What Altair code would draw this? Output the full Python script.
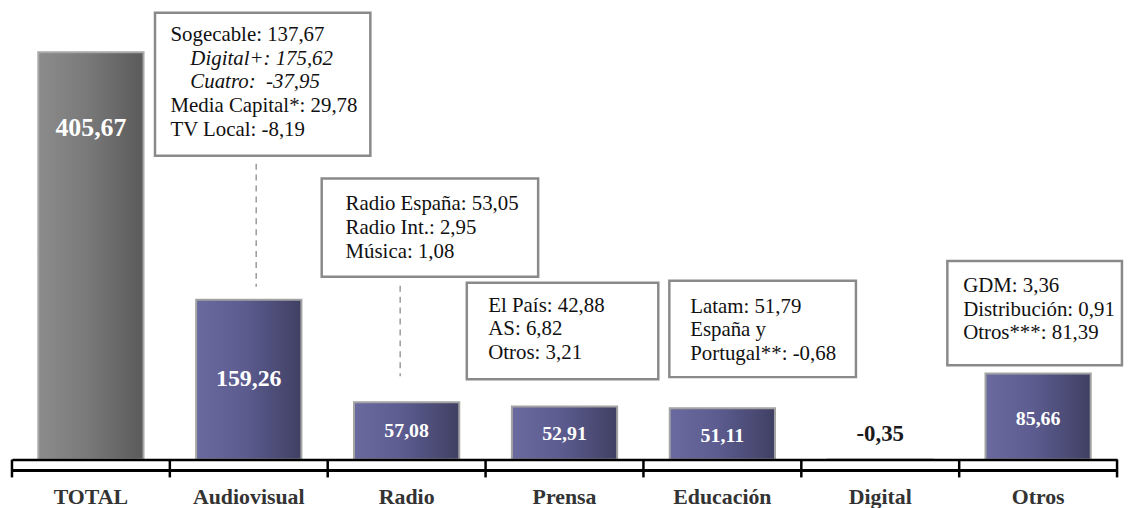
import altair as alt
import pandas as pd

# ---------------- data ----------------
categories = ["TOTAL", "Audiovisual", "Radio", "Prensa", "Educación", "Digital", "Otros"]
values = [405.67, 159.26, 57.08, 52.91, 51.11, -0.35, 85.66]
# height (in value units) at which each value label sits
label_at = [330.0, 80.1, 28.7, 25.2, 23.7, 25.7, 40.5]

note_audiovisual = ["Sogecable: 137,67", "Digital+: 175,62", "Cuatro:\u00a0\u00a0-37,95",
                    "Media Capital*: 29,78", "TV Local: -8,19"]
note_audiovisual_italic = [False, True, True, False, False]
note_radio = ["Radio España: 53,05", "Radio Int.: 2,95", "Música: 1,08"]
note_prensa = ["El País: 42,88", "AS: 6,82", "Otros: 3,21"]
note_educacion = ["Latam: 51,79", "España y", "\u00a0Portugal**: -0,68"]
note_otros = ["GDM: 3,36", "Distribución: 0,91", "Otros***: 81,39"]

# ---------------- layout / style ----------------
W, H = 1113, 453
YMAX = 448
FONT = "Liberation Serif"
label_size = [26, 24, 20, 20, 20, 23, 20]
label_color = ["white", "white", "white", "white", "white", "#1a1a1a", "white"]
LINE_STEP = 23.7  # value units between text lines

# box geometry: x in band units (0..7), y in value units
boxes = [
    dict(u0=0.906, u1=2.270, v0=445.0, v1=302.6, tu=1.004, tv=417.0, lines=note_audiovisual,
         italic=note_audiovisual_italic),
    dict(u0=1.962, u1=3.333, v0=279.9, v1=182.0, tu=2.113, tv=248.2, lines=note_radio,
         italic=[False] * 3),
    dict(u0=2.881, u1=4.094, v0=176.0, v1=80.1, tu=3.017, tv=147.4, lines=note_prensa,
         italic=[False] * 3),
    dict(u0=4.164, u1=5.346, v0=178.0, v1=82.1, tu=4.296, tv=146.4, lines=note_educacion,
         italic=[False] * 3),
    dict(u0=5.925, u1=7.031, v0=197.8, v1=94.0, tu=6.025, tv=167.1, lines=note_otros,
         italic=[False] * 3),
]
ITALIC_INDENT = 0.126
dashes = [dict(u=1.547, v0=294.7, v1=172.1), dict(u=2.459, v0=173.1, v1=83.1)]

# ---------------- tables ----------------
bars_df = pd.DataFrame({
    "cat": categories,
    "value": values,
    "label": [f"{v:.2f}".replace(".", ",") for v in values],
    "label_at": label_at,
    "fs": label_size,
    "lc": label_color,
})

box_df = pd.DataFrame([{k: b[k] for k in ("u0", "u1", "v0", "v1")} for b in boxes])
rows = []
for b in boxes:
    for i, (t, it) in enumerate(zip(b["lines"], b["italic"])):
        rows.append(dict(text=t, italic=it,
                         u=b["tu"] + (ITALIC_INDENT if it else 0.0),
                         v=b["tv"] - i * LINE_STEP))
text_df = pd.DataFrame(rows)
dash_df = pd.DataFrame(dashes)
tick_df = pd.DataFrame({"u": list(range(len(categories) + 1))})  # band boundaries

# ---------------- encodings ----------------
x_band = alt.X(
    "cat:N", sort=categories,
    scale=alt.Scale(domain=categories, paddingInner=1 / 3, paddingOuter=1 / 6),
    axis=alt.Axis(title=None, labelAngle=0, ticks=False, grid=False,
                  domainColor="black", domainWidth=2.5,
                  labelFont=FONT, labelFontSize=22, labelFontWeight="bold",
                  labelColor="#333333", labelBaseline="alphabetic", labelPadding=44,
                  zindex=1),
)
yscale = alt.Scale(domain=[0, YMAX], nice=False, zero=True)

purple = alt.LinearGradient(
    gradient="linear", x1=0, x2=1, y1=0, y2=0,
    stops=[alt.GradientStop(color="#6a6aa0", offset=0),
           alt.GradientStop(color="#5c5c90", offset=0.45),
           alt.GradientStop(color="#404064", offset=1)])
gray = alt.LinearGradient(
    gradient="linear", x1=0, x2=1, y1=0, y2=0,
    stops=[alt.GradientStop(color="#8c8c8c", offset=0),
           alt.GradientStop(color="#7a7a7a", offset=0.45),
           alt.GradientStop(color="#5a5a5a", offset=1)])

base = alt.Chart(bars_df)
bars_total = base.transform_filter(alt.datum.cat == "TOTAL").mark_bar(
    fill=gray, stroke="#a8a8a8", strokeWidth=2).encode(
    x=x_band, y=alt.Y("value:Q", scale=yscale, axis=None))
bars_rest = base.transform_filter(alt.datum.cat != "TOTAL").mark_bar(
    fill=purple, stroke="#a3a3a3", strokeWidth=2).encode(
    x=x_band, y=alt.Y("value:Q", scale=yscale, axis=None))
value_labels = base.mark_text(font=FONT, fontWeight="bold", baseline="middle",
                              align="center").encode(
    x=x_band,
    y=alt.Y("label_at:Q", axis=None),
    text="label:N",
    size=alt.Size("fs:Q", scale=None, legend=None),
    color=alt.Color("lc:N", scale=None, legend=None),
)
second_line = base.mark_rule(color="black", strokeWidth=2.2).encode(
    x=alt.value(0), x2=alt.value(W), y=alt.value(H + 11))

bars_layer = alt.layer(bars_total, bars_rest, value_labels, second_line)

uscale = alt.Scale(domain=[0, len(categories)], nice=False, zero=False)
box_rect = alt.Chart(box_df).mark_rect(fill="white", stroke="#8a8a8a", strokeWidth=2.5).encode(
    x=alt.X("u0:Q", scale=uscale, axis=None), x2="u1:Q",
    y=alt.Y("v0:Q", axis=None), y2="v1:Q")
txt_base = alt.Chart(text_df)
text_norm = txt_base.transform_filter(alt.datum.italic == False).mark_text(
    font=FONT, fontSize=21, align="left", baseline="alphabetic", color="#111111").encode(
    x=alt.X("u:Q", scale=uscale, axis=None), y=alt.Y("v:Q", axis=None), text="text:N")
text_ital = txt_base.transform_filter(alt.datum.italic == True).mark_text(
    font=FONT, fontSize=21, fontStyle="italic", align="left", baseline="alphabetic",
    color="#111111").encode(
    x=alt.X("u:Q", scale=uscale, axis=None), y=alt.Y("v:Q", axis=None), text="text:N")
dash_rules = alt.Chart(dash_df).mark_rule(color="#9a9a9a", strokeWidth=1.5,
                                          strokeDash=[6, 5]).encode(
    x=alt.X("u:Q", scale=uscale, axis=None), y=alt.Y("v0:Q", axis=None), y2="v1:Q")
ticks = alt.Chart(tick_df).mark_rule(color="black", strokeWidth=2.5).encode(
    x=alt.X("u:Q", scale=uscale, axis=None), y=alt.value(H), y2=alt.value(H + 18))

annot_layer = alt.layer(dash_rules, box_rect, text_norm, text_ital, ticks)

chart = alt.layer(bars_layer, annot_layer).resolve_scale(x="independent").properties(
    width=W, height=H,
    padding={"left": 4, "top": 0, "right": 8, "bottom": 47},
    autosize=alt.AutoSizeParams(type="none"),
).configure_view(stroke=None)

chart.save("out.html", embed_options={"renderer": "svg", "actions": False})
